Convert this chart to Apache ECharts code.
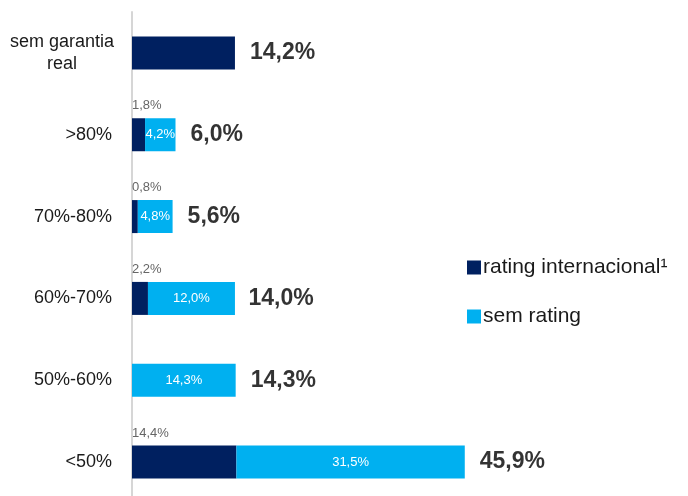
<!DOCTYPE html>
<html>
<head>
<meta charset="utf-8">
<script src="https://cdn.jsdelivr.net/npm/echarts@6/dist/echarts.min.js"></script>
<style>
  html, body { margin: 0; padding: 0; background: #fff; }
  #root { width: 688px; height: 496px; }
</style>
</head>
<body>
<div id="root"></div>
<script>
// categories top to bottom
const categories = ['sem garantia real', '>80%', '70%-80%', '60%-70%', '50%-60%', '<50%']
const ratingInternacional = [14.2, 1.8, 0.8, 2.2, 0, 14.4]
const semRating = [0, 4.2, 4.8, 12.0, 14.3, 31.5]
const totals = [14.2, 6.0, 5.6, 14.0, 14.3, 45.9]

const NAVY = '#002060'
const BLUE = '#00B0F0'
const FONT = '"Liberation Sans Narrow", "Arial Narrow", "Liberation Sans", sans-serif'

const fmt = v => v.toFixed(1).replace('.', ',') + '%'

const dom = document.getElementById('root')
const myChart = echarts.init(dom, null, { renderer: 'canvas' })

const option = {
  animation: false,
  textStyle: { fontFamily: FONT },
  grid: { left: 132, width: 435, top: 12, height: 491, containLabel: false, outerBoundsMode: 'none' },
  legend: {
    orient: 'vertical',
    left: 462,
    top: 252,
    itemGap: 28,
    itemWidth: 14,
    itemHeight: 14,
    icon: 'rect',
    data: ['rating internacional¹', 'sem rating'],
    textStyle: { fontFamily: FONT, fontSize: 21, color: '#1a1a1a', padding: [0, 0, 0, -3] }
  },
  xAxis: {
    type: 'value',
    min: 0,
    max: 60,
    show: false
  },
  yAxis: {
    type: 'category',
    inverse: true,
    data: categories,
    axisLine: { show: true, lineStyle: { color: '#d6d6d6', width: 2 } },
    axisTick: { show: false },
    axisLabel: {
      margin: 20,
      fontFamily: FONT,
      fontSize: 18,
      color: '#1a1a1a',
      formatter: v => v === 'sem garantia real'
        ? '{c|sem garantia}\n{c|real}'
        : v,
      rich: {
        c: { width: 100, align: 'center', fontFamily: FONT, fontSize: 18, color: '#1a1a1a', lineHeight: 22 }
      }
    }
  },
  series: [
    {
      name: 'rating internacional¹',
      type: 'bar',
      stack: 'total',
      barWidth: 33,
      itemStyle: { color: NAVY },
      data: ratingInternacional.map((v, i) => ({
        value: v,
        label: { show: i > 0 && v > 0 }
      })),
      label: {
        position: [0, -19],
        fontFamily: FONT,
        fontSize: 13,
        color: '#666',
        formatter: p => fmt(p.value)
      }
    },
    {
      name: 'sem rating',
      type: 'bar',
      stack: 'total',
      barWidth: 33,
      itemStyle: { color: BLUE },
      data: semRating.map(v => ({ value: v, label: { show: v > 0 } })),
      label: {
        position: 'inside',
        fontFamily: FONT,
        fontSize: 13,
        color: '#fff',
        formatter: p => fmt(p.value)
      }
    },
    {
      name: 'total',
      type: 'scatter',
      symbolSize: 0,
      silent: true,
      data: totals.map((v, i) => [v, categories[i]]),
      label: {
        show: true,
        position: 'right',
        distance: 15,
        fontFamily: FONT,
        fontSize: 23,
        fontWeight: 'bold',
        color: '#000',
        formatter: p => fmt(p.value[0])
      }
    }
  ]
}

if (option && typeof option === 'object') {
  myChart.setOption(option, true)
}
</script>
</body>
</html>
